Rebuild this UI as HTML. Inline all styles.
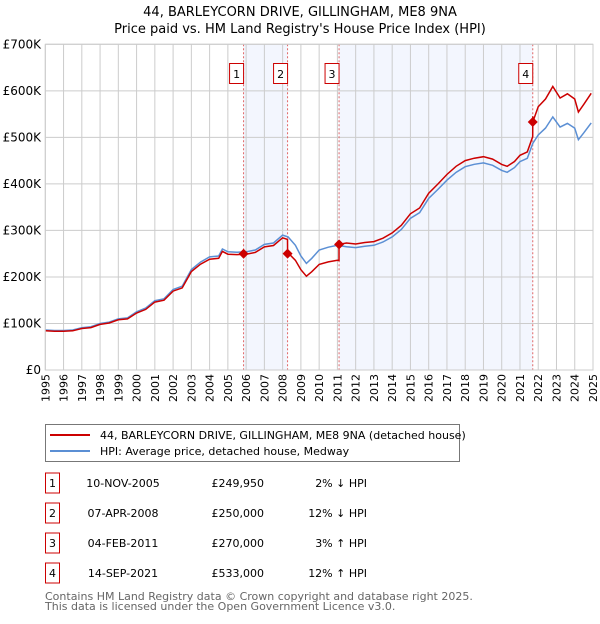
<!DOCTYPE html>
<html><head><meta charset="utf-8"><style>
body{margin:0;background:#fff;font-family:"DejaVu Sans","Liberation Sans",sans-serif;}
svg text{font-family:"DejaVu Sans","Liberation Sans",sans-serif;}
</style></head><body>
<svg id="chart" width="600" height="620" xmlns="http://www.w3.org/2000/svg">
<text x="300" y="16" text-anchor="middle" font-size="13">44, BARLEYCORN DRIVE, GILLINGHAM, ME8 9NA</text>
<text x="300" y="33" text-anchor="middle" font-size="13">Price paid vs. HM Land Registry's House Price Index (HPI)</text>
<g id="plot"></g>
<g>
<rect x="45.5" y="424.5" width="414" height="37" fill="#fff" stroke="#777"/>
<line x1="50" y1="435" x2="90" y2="435" stroke="#cc0000" stroke-width="2"/>
<text x="100" y="439" font-size="11">44, BARLEYCORN DRIVE, GILLINGHAM, ME8 9NA (detached house)</text>
<line x1="50" y1="451" x2="90" y2="451" stroke="#5b8fd4" stroke-width="2"/>
<text x="100" y="455" font-size="11">HPI: Average price, detached house, Medway</text>
</g>
<g id="table" font-size="11"></g>
<text x="45" y="600" font-size="11" fill="#666">Contains HM Land Registry data © Crown copyright and database right 2025.</text>
<text x="45" y="610" font-size="11" fill="#666">This data is licensed under the Open Government Licence v3.0.</text>
</svg>
<script>
const hpiYears=[1995,1995.5,1996,1996.5,1997,1997.5,1998,1998.5,1999,1999.5,2000,2000.5,2001,2001.5,2002,2002.5,2003,2003.5,2004,2004.5,2004.7,2005,2005.5,2006,2006.5,2007,2007.5,2008,2008.3,2008.7,2009,2009.3,2009.6,2010,2010.5,2011,2011.5,2012,2012.5,2013,2013.5,2014,2014.5,2015,2015.5,2016,2016.5,2017,2017.5,2018,2018.5,2019,2019.5,2020,2020.3,2020.7,2021,2021.4,2021.7,2022,2022.4,2022.8,2023.2,2023.6,2024,2024.2,2024.5,2024.9];
const hpiValues=[86,85,85,86,91,93,100,103,110,112,125,133,149,153,173,180,216,232,243,245,260,254,253,254,258,270,273,290,286,268,245,229,240,258,264,268,265,263,266,268,275,286,302,326,338,369,388,408,425,437,442,445,440,429,425,435,448,455,487,505,520,544,522,530,520,495,510,531];
const saleYears=[2005.86,2008.27,2011.09,2021.70];
const salePrices=[249950,250000,270000,533000];
const saleLabels=["1","2","3","4"];
const saleDates=["10-NOV-2005","07-APR-2008","04-FEB-2011","14-SEP-2021"];
const salePriceText=["£249,950","£250,000","£270,000","£533,000"];
const saleDiffs=["2% ↓ HPI","12% ↓ HPI","3% ↑ HPI","12% ↑ HPI"];
const segmentFactors=[0.98,0.98,0.88,1.03,1.12];
const yTicks=[0,100,200,300,400,500,600,700];
const yTickLabels=["£0","£100K","£200K","£300K","£400K","£500K","£600K","£700K"];
const xTicks=[1995,1996,1997,1998,1999,2000,2001,2002,2003,2004,2005,2006,2007,2008,2009,2010,2011,2012,2013,2014,2015,2016,2017,2018,2019,2020,2021,2022,2023,2024,2025];

const NS="http://www.w3.org/2000/svg";
const X0=45.3,X1=593,Y0=370,Y1=44.3;
const xs=y=>X0+(y-1995)*(X1-X0)/30;
const ys=v=>Y0-v*(Y0-Y1)/700;
const plot=document.getElementById('plot');
function mk(tag,attrs,parent){const e=document.createElementNS(NS,tag);for(const k in attrs)e.setAttribute(k,attrs[k]);(parent||plot).appendChild(e);return e;}

for(let i=0;i<saleYears.length;i+=2){
  const r=mk('rect',{x:xs(saleYears[i]),y:Y1,width:xs(saleYears[i+1])-xs(saleYears[i]),height:Y0-Y1,fill:'#f3f6fe'});
  
  
}
xTicks.forEach((t,i)=>{
  const l=mk('line',{x1:xs(t),x2:xs(t),y1:Y1,y2:Y0,stroke:'#cccccc','stroke-width':1});
  
  
  const tx0=(xs(t)+4).toFixed(1);
  const tx=mk('text',{x:tx0,y:374,'font-size':11,'text-anchor':'end',transform:'rotate(-90 '+tx0+' 374)'});
  tx.textContent=t;
  
  
});
yTicks.forEach((t,i)=>{
  const l=mk('line',{x1:X0,x2:X1,y1:ys(t),y2:ys(t),stroke:'#cccccc','stroke-width':1});
  
  
  const tx=mk('text',{x:41,y:ys(t)+4,'font-size':12,'text-anchor':'end'});
  tx.textContent=yTickLabels[i];
  
  
});
saleYears.forEach((s,i)=>{
  const l=mk('line',{x1:xs(s),x2:xs(s),y1:Y1,y2:Y0,stroke:'#e06666','stroke-width':1,'stroke-dasharray':'2,2'});
  
  
  const bx=xs(s)-14;
  const r=mk('rect',{x:bx,y:63.5,width:14,height:20,fill:'#fff',stroke:'#cc0000'});
  
  
  const t=mk('text',{x:bx+7,y:78,'font-size':11,'text-anchor':'middle'});
  t.textContent=saleLabels[i];
  
  
});
const hp=mk('path',{d:hpiYears.map((y,i)=>(i?'L':'M')+xs(y).toFixed(1)+','+ys(hpiValues[i]).toFixed(1)).join(''),fill:'none',stroke:'#5b8fd4','stroke-width':1.5});


function hpiAt(y){for(let i=1;i<hpiYears.length;i++){if(y<=hpiYears[i]){const f=(y-hpiYears[i-1])/(hpiYears[i]-hpiYears[i-1]);return hpiValues[i-1]+f*(hpiValues[i]-hpiValues[i-1]);}}return hpiValues[hpiValues.length-1];}
let pts=[];
hpiYears.forEach((y,i)=>{
  let seg=0;saleYears.forEach(s=>{if(y>=s)seg++;});
  pts.push([y,hpiValues[i]*segmentFactors[seg]]);
});
saleYears.forEach((s,i)=>{
  pts.push([s-0.001,hpiAt(s)*segmentFactors[i]]);
  pts.push([s,salePrices[i]/1000]);
});
pts.sort((a,b)=>a[0]-b[0]);
const rp=mk('path',{d:pts.map((p,i)=>(i?'L':'M')+xs(p[0]).toFixed(1)+','+ys(p[1]).toFixed(1)).join(''),fill:'none',stroke:'#cc0000','stroke-width':1.5});


saleYears.forEach((s,i)=>{
  const x=xs(s),y=ys(salePrices[i]/1000);
  const d=mk('path',{d:`M${x},${y-5}L${x+5},${y}L${x},${y+5}L${x-5},${y}Z`,fill:'#cc0000'});
  
  
});
mk('rect',{x:X0,y:Y1,width:X1-X0,height:Y0-Y1,fill:'none',stroke:'#cccccc'});
const tb=document.getElementById('table');
saleYears.forEach((s,i)=>{
  const cy=483+i*30;
  const r=mk('rect',{x:45.5,y:cy-10,width:14,height:20,fill:'#fff',stroke:'#cc0000'},tb);
  
  
  const vals=[[52.5,'middle',saleLabels[i]],[123,'middle',saleDates[i]],[264,'end',salePriceText[i]],[367,'end',saleDiffs[i]]];
  vals.forEach(v=>{
    const t=mk('text',{x:v[0],y:cy+4,'text-anchor':v[1],'font-size':11},tb);
    t.textContent=v[2];
    
    
  });
});
</script>
</body></html>
